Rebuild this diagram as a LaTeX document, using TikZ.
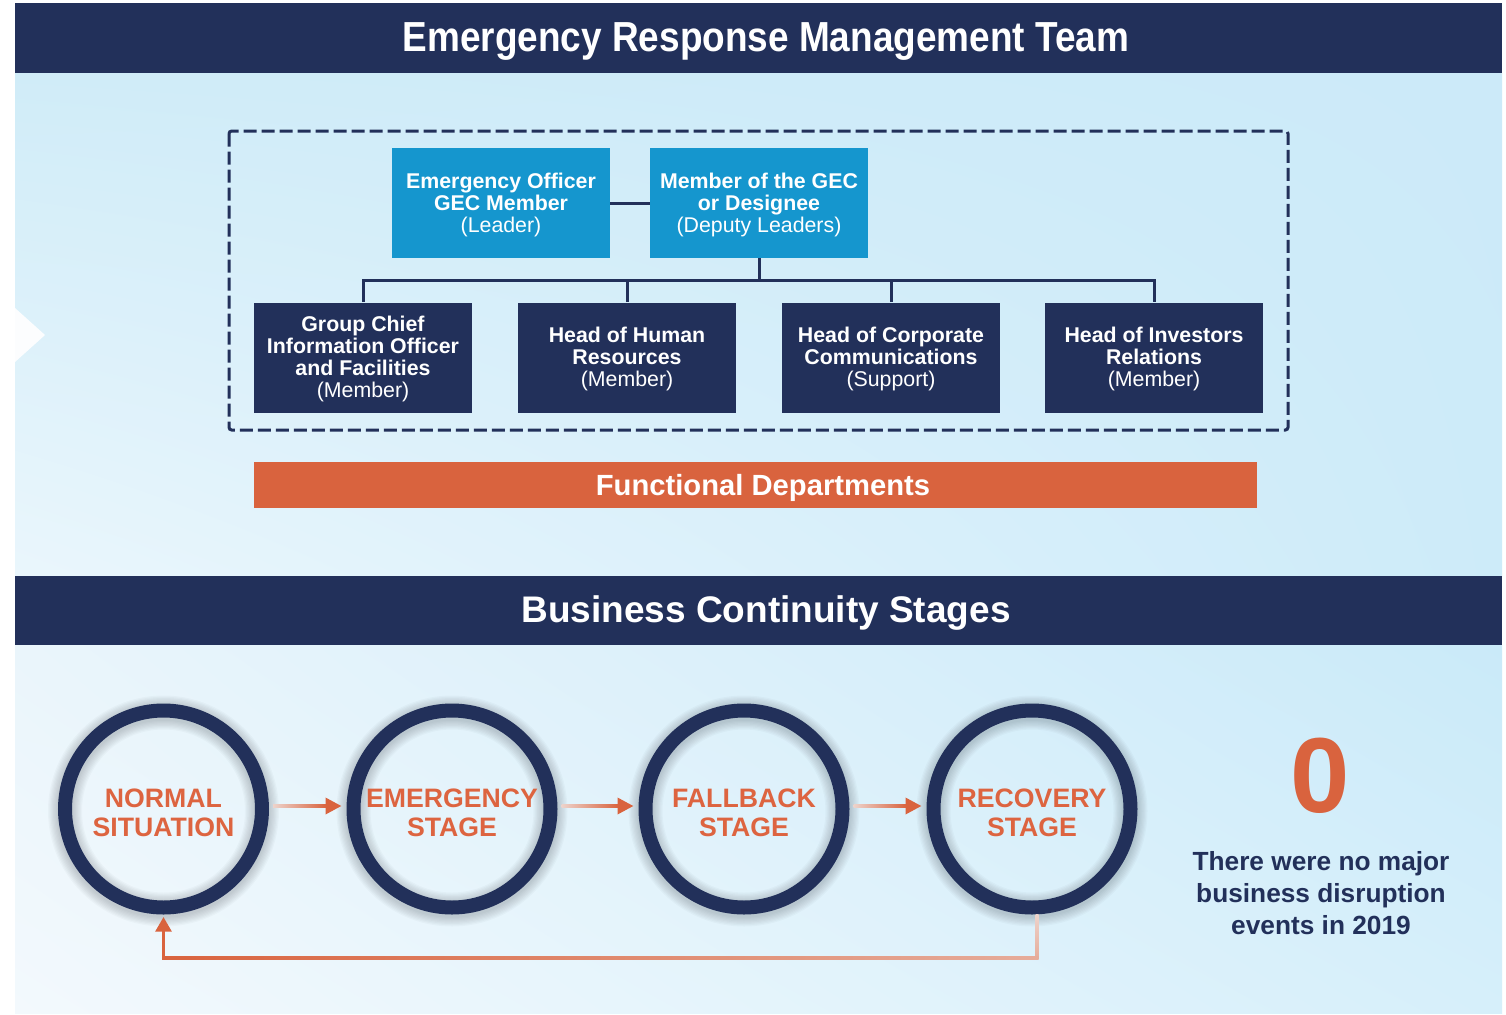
\documentclass[tikz,border=0pt]{standalone}
\usepackage{fontspec}
\setmainfont{Liberation Sans}
\newfontfamily\narrowfont[FakeStretch=0.88]{Liberation Sans}
\usetikzlibrary{arrows.meta,calc,shadings}
\definecolor{navy}{HTML}{22305A}
\definecolor{gecblue}{HTML}{1596CE}
\definecolor{orng}{HTML}{D9633E}
\definecolor{orngtxt}{HTML}{DD6440}
\definecolor{pinklt}{HTML}{EDD3CB}
\definecolor{pinkmid}{HTML}{E6AC9A}
\definecolor{bgAul}{RGB}{208,236,248}
\definecolor{bgAur}{RGB}{204,234,249}
\definecolor{bgAll}{RGB}{234,246,252}
\definecolor{bgAlr}{RGB}{205,235,249}
\definecolor{bgBul}{RGB}{234,245,251}
\definecolor{bgBur}{RGB}{202,234,249}
\definecolor{bgBll}{RGB}{243,249,253}
\definecolor{bgBlr}{RGB}{214,239,250}
\tikzset{
  headerbar/.style={fill=navy},
  headertext/.style={text=white, font=\bfseries\fontsize{27.75}{30}\selectfont},
  gecbox/.style={fill=gecblue, minimum width=163.5pt, minimum height=82.5pt, inner sep=0pt},
  memberbox/.style={gecbox, fill=navy},
  boxtext/.style={text=white, inner sep=0pt, align=center, font=\fontsize{16}{16.5}\selectfont},
  orgline/.style={draw=navy, line width=2.25pt},
  stage/.style={circle, draw=navy, line width=10.5pt, minimum size=147.75pt, inner sep=0pt},
  stagetext/.style={align=center, inner sep=0pt, text=orngtxt, font=\bfseries\fontsize{20}{21.75}\selectfont},
  flowarrow/.style={draw=orng, line width=2.6pt, -{Triangle[length=12pt,width=12pt]}},
  loopline/.style={draw=orng, line width=2.25pt, -{Triangle[length=11pt,width=12pt]}},
}
\begin{document}
\begin{tikzpicture}[x=0.75pt,y=-0.75pt]
\useasboundingbox (0,0) rectangle (1506,1014);
\fill[white] (0,0) rectangle (1506,1014);
% backgrounds
\shade[upper left=bgAul, upper right=bgAur, lower left=bgAll, lower right=bgAlr] (15,73) rectangle (1502,576);
\shade[upper left=bgBul, upper right=bgBur, lower left=bgBll, lower right=bgBlr] (15,645) rectangle (1502,1013);
\fill[white, opacity=0.92] (15,308) -- (45,335) -- (15,362) -- cycle;
% headers
\fill[headerbar] (15,3) rectangle (1502,73);
\node[headertext, font=\narrowfont\bfseries\fontsize{31.5}{33}\selectfont] (title1) at (766,42) {Emergency Response Management Team};
\fill[headerbar] (15,576) rectangle (1502,645);
\node[headertext] (title2) at (766,613.5) {Business Continuity Stages};
% dashed frame
\draw[navy, line width=2.25pt, dash pattern=on 9.75pt off 3.75pt, rounded corners=2pt] (229,131) rectangle (1288,430);
% org chart
\node[gecbox] (leader) at (501,203) {};
\node[gecbox] (deputy) at (759,203) {};
\node[memberbox] (m1) at (363,357.5) {};
\node[memberbox] (m2) at (627,357.5) {};
\node[memberbox] (m3) at (891,357.5) {};
\node[memberbox] (m4) at (1154,357.5) {};
\node[boxtext] (leadert) at ($(leader)+(0,2)$) {\textbf{Emergency Officer}\\\textbf{GEC Member}\\(Leader)};
\node[boxtext] (deputyt) at ($(deputy)+(0,2)$) {\textbf{Member of the GEC}\\\textbf{or Designee}\\(Deputy Leaders)};
\node[boxtext] (m1t) at ($(m1)+(0,1.5)$) {\textbf{Group Chief}\\\textbf{Information Officer}\\\textbf{and Facilities}\\(Member)};
\node[boxtext] (m2t) at ($(m2)+(0,1.5)$) {\textbf{Head of Human}\\\textbf{Resources}\\(Member)};
\node[boxtext] (m3t) at ($(m3)+(0,1.5)$) {\textbf{Head of Corporate}\\\textbf{Communications}\\(Support)};
\node[boxtext] (m4t) at ($(m4)+(0,1.5)$) {\textbf{Head of Investors}\\\textbf{Relations}\\(Member)};
\coordinate (bus) at (759,280);
\draw[orgline] (leader) -- (deputy);
\draw[orgline] (deputy.south) -- (bus);
\draw[orgline] (m1.north) |- (bus) -| (m4.north);
\draw[orgline] (m2.north) -- (m2.north |- bus);
\draw[orgline] (m3.north) -- (m3.north |- bus);
% functional departments
\node[fill=orng, minimum width=752.25pt, minimum height=34.5pt, inner sep=0pt] (func) at (755.5,485) {};
\node[text=white, font=\bfseries\fontsize{21.9}{24}\selectfont] (functext) at (763,488) {Functional Departments};
% stage shadows
\foreach \cx in {163.5,452,744,1032}{
  \foreach \k in {1,...,8}{
    \pgfmathsetmacro\lw{(14+2.5*\k)*0.75}
    \draw[black!80!navy, opacity=0.022, line width=\lw pt] (\cx,811) circle[radius=98.5];
  }
}
% stages
\node[stage] (c1) at (163.5,809) {};
\node[stage] (c2) at (452,809) {};
\node[stage] (c3) at (744,809) {};
\node[stage] (c4) at (1032,809) {};
\node[stagetext] (c1t) at ($(c1)+(0,4)$) {NORMAL\\SITUATION};
\node[stagetext] (c2t) at ($(c2)+(0,4)$) {EMERGENCY\\STAGE};
\node[stagetext] (c3t) at ($(c3)+(0,4)$) {FALLBACK\\STAGE};
\node[stagetext] (c4t) at ($(c4)+(0,4)$) {RECOVERY\\STAGE};
% flow arrows
\foreach \a/\b in {c1/c2, c2/c3, c3/c4}{
  \draw[flowarrow] ($(\a.east)+(4,-3)$) -- ($(\b.west)+(-5,-3)$);
  \shade[left color=pinklt, right color=orng] ($(\a.east)+(4,-4.75)$) rectangle ($(\b.west)+(-20,-1.25)$);
}
% return loop
\draw[loopline] ($(c4.south)+(5,0)$) |- ($(c1.south)+(0,43)$) -- ($(c1.south)+(0,2.5)$);
\shade[top color=pinklt, bottom color=pinkmid] ($(c4.south)+(3.5,0)$) rectangle ($(c4.south)+(6.5,44)$);
\shade[left color=orng, right color=pinkmid] ($(c1.south)+(-1.5,41.5)$) rectangle ($(c4.south)+(6.5,44.5)$);
% summary
\node[text=orng, font=\bfseries\fontsize{80}{80}\selectfont] (zero) at (1320,776) {0};
\node[text=navy, align=center, font=\bfseries\fontsize{19.7}{24}\selectfont] (caption) at (1321,893)
  {There were no major\\business disruption\\events in 2019};
\end{tikzpicture}
\end{document}
